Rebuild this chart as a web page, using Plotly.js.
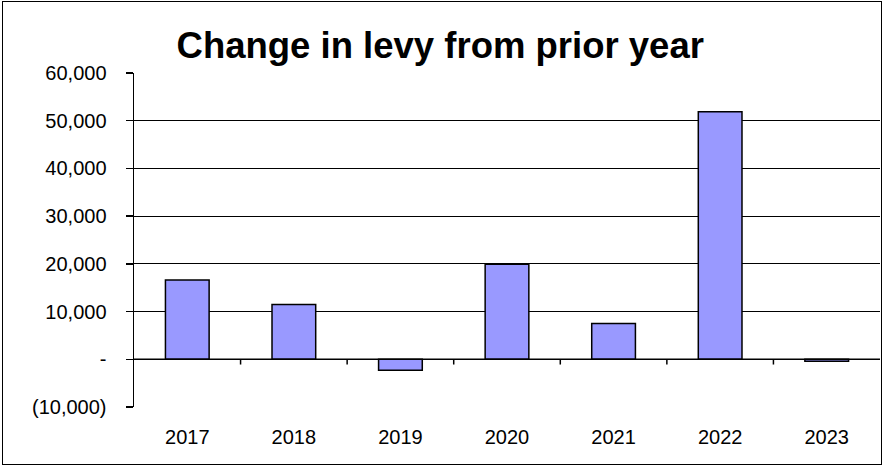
<!DOCTYPE html>
<html><head><meta charset="utf-8">
<script src="https://cdn.plot.ly/plotly-3.0.1.min.js"></script>
<style>
html,body{margin:0;padding:0;background:#fff;}
#wrap{position:relative;width:884px;height:467px;}
#chart{width:884px;height:467px;}
#frame{position:absolute;left:2px;top:1px;width:878px;height:462px;border:1.5px solid #000;pointer-events:none;}
</style></head>
<body><div id="wrap"><div id="chart"></div><div id="frame"></div></div>
<script>
const years = ['2017','2018','2019','2020','2021','2022','2023'];
const levyChange = [16600, 11500, -2300, 19900, 7500, 51900, -400];
const yTickVals = [60000, 50000, 40000, 30000, 20000, 10000, 0, -10000];
const yTickText = ['60,000','50,000','40,000','30,000','20,000','10,000','-','(10,000)'];

const shapes = [];
for (let i = 0; i < years.length - 1; i++) {
  shapes.push({type:'line', xref:'x', yref:'y', x0:i+0.5, x1:i+0.5, y0:0, y1:-1100,
    line:{color:'#000', width:1.5}});
}
// zero axis line
shapes.push({type:'line', xref:'paper', yref:'y', x0:0, x1:1, y0:0, y1:0, line:{color:'#000', width:1.5}});

const trace = {
  type:'bar', x:years, y:levyChange,
  marker:{color:'#9999FF', line:{color:'#000', width:1.5}},
  width:0.41, hoverinfo:'none'
};
const layout = {
  width:884, height:467,
  margin:{l:134, r:4, t:73, b:60},
  paper_bgcolor:'#fff', plot_bgcolor:'#fff',
  showlegend:false,
  title:{text:'Change in levy from prior year', x:0.498, xanchor:'center', y:0.903, yanchor:'middle',
    font:{family:'Liberation Sans, Arial, sans-serif', size:36.5, color:'#000', weight:'bold'}},
  font:{family:'Liberation Sans, Arial, sans-serif', size:20, color:'#000'},
  xaxis:{type:'category', showgrid:false, zeroline:false, showline:false,
    ticks:'outside', ticklen:12, tickcolor:'rgba(0,0,0,0)', tickfont:{size:20}},
  yaxis:{range:[-10000,60000], tickvals:yTickVals, ticktext:yTickText,
    showgrid:true, gridcolor:'#000', gridwidth:1.2, zeroline:false,
    showline:true, linecolor:'#000', linewidth:1.5,
    ticks:'outside', ticklen:7, tickcolor:'#000', tickwidth:1.5, tickfont:{size:20},
    ticklabelstandoff:15},
  shapes:shapes
};
Plotly.newPlot('chart', [trace], layout, {displayModeBar:false, staticPlot:true});
</script></body></html>
